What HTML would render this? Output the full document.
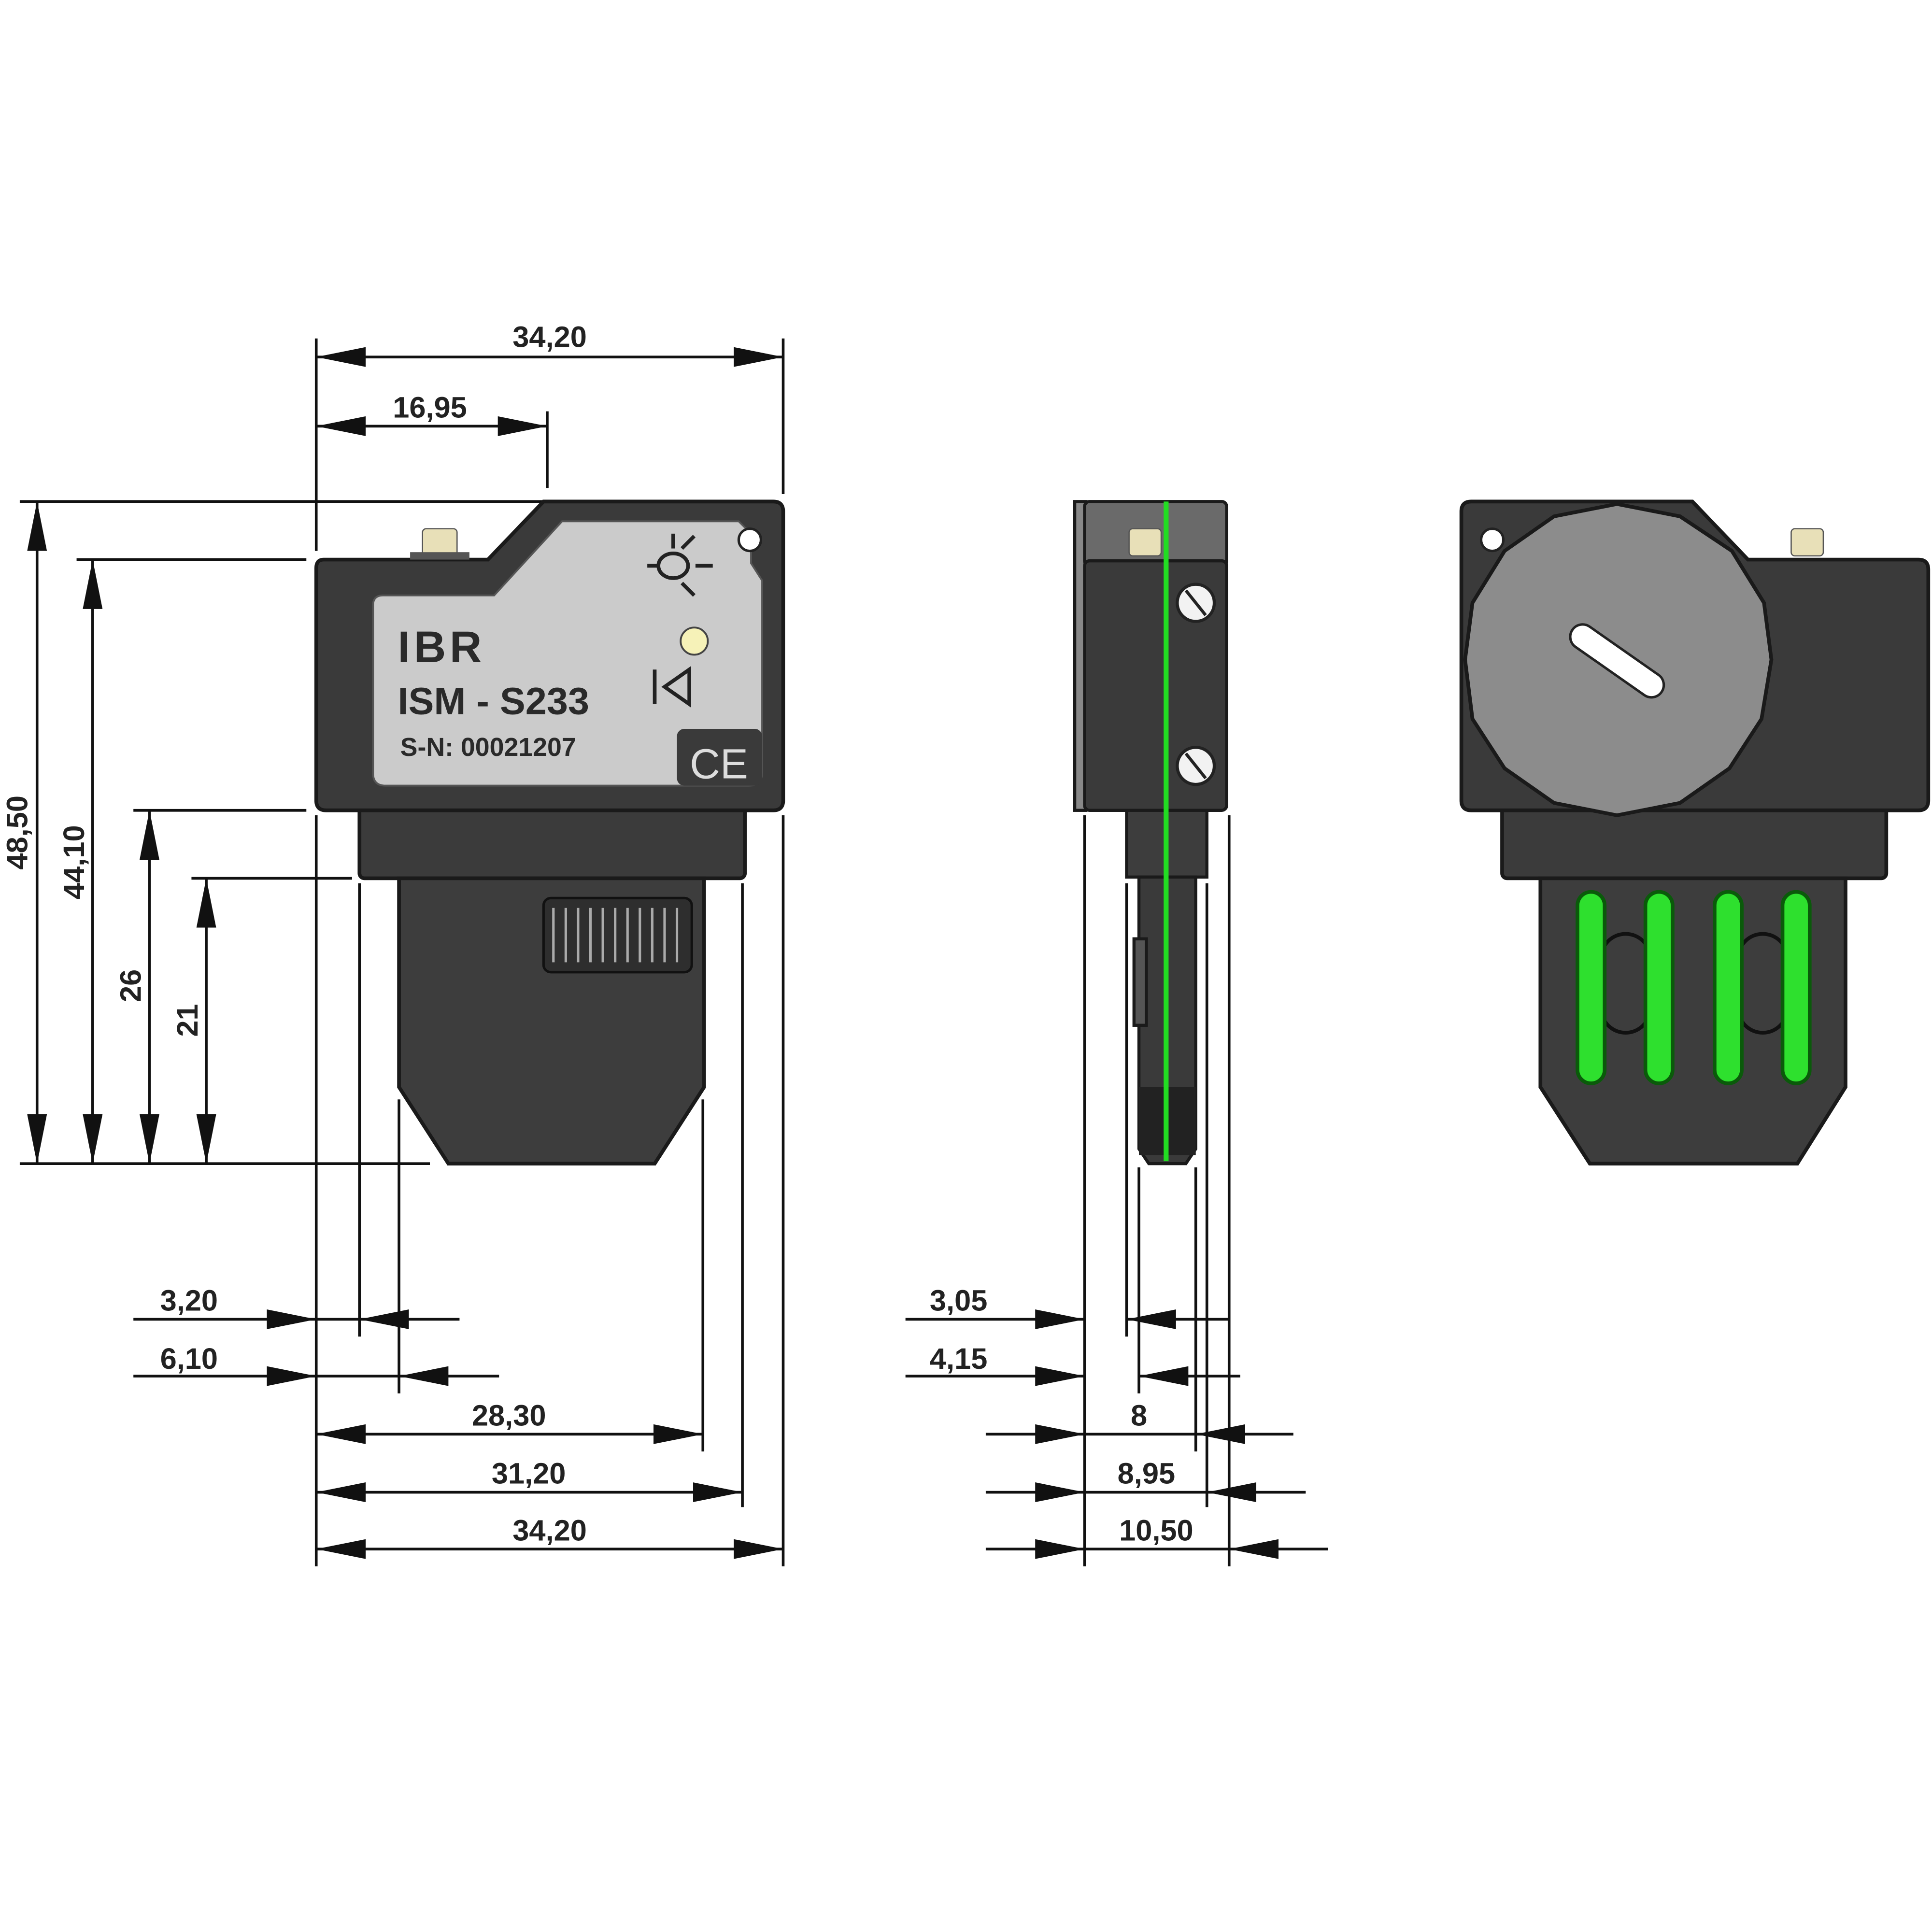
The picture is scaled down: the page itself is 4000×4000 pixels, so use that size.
<!DOCTYPE html>
<html><head><meta charset="utf-8"><style>
html,body{margin:0;padding:0;background:#fff;}
svg{display:block;}
text{font-family:"Liberation Sans",sans-serif;font-weight:bold;fill:#222;}
</style></head><body>
<svg width="4000" height="4000" viewBox="0 0 1564 1564" xmlns="http://www.w3.org/2000/svg">
<defs>
<marker id="a" viewBox="0 0 40 16" refX="40" refY="8" markerWidth="40" markerHeight="16" markerUnits="userSpaceOnUse" orient="auto-start-reverse"><path d="M0,0 L40,8 L0,16 z" fill="#111"/></marker>
</defs>
<g stroke="#111" stroke-width="2.2" fill="none">
<line x1="256" y1="274" x2="256" y2="446"/>
<line x1="634" y1="274" x2="634" y2="400"/>
<line x1="443" y1="333" x2="443" y2="395"/>
<line x1="256" y1="660" x2="256" y2="1268"/>
<line x1="634" y1="660" x2="634" y2="1268"/>
<line x1="291" y1="715" x2="291" y2="1082"/>
<line x1="323" y1="890" x2="323" y2="1128"/>
<line x1="569" y1="890" x2="569" y2="1175"/>
<line x1="601" y1="715" x2="601" y2="1220"/>
<line x1="16" y1="406" x2="440" y2="406"/>
<line x1="62" y1="453" x2="248" y2="453"/>
<line x1="108" y1="656" x2="248" y2="656"/>
<line x1="155" y1="711" x2="285" y2="711"/>
<line x1="16" y1="942" x2="348" y2="942"/>
<line x1="256" y1="289" x2="634" y2="289" marker-start="url(#a)" marker-end="url(#a)"/>
<line x1="256" y1="345" x2="443" y2="345" marker-start="url(#a)" marker-end="url(#a)"/>
<line x1="30" y1="406" x2="30" y2="942" marker-start="url(#a)" marker-end="url(#a)"/>
<line x1="75" y1="453" x2="75" y2="942" marker-start="url(#a)" marker-end="url(#a)"/>
<line x1="121" y1="656" x2="121" y2="942" marker-start="url(#a)" marker-end="url(#a)"/>
<line x1="167" y1="711" x2="167" y2="942" marker-start="url(#a)" marker-end="url(#a)"/>
<line x1="108" y1="1068" x2="256" y2="1068" marker-end="url(#a)"/>
<line x1="372" y1="1068" x2="291" y2="1068" marker-end="url(#a)"/>
<line x1="256" y1="1068" x2="291" y2="1068"/>
<line x1="108" y1="1114" x2="256" y2="1114" marker-end="url(#a)"/>
<line x1="404" y1="1114" x2="323" y2="1114" marker-end="url(#a)"/>
<line x1="256" y1="1114" x2="323" y2="1114"/>
<line x1="256" y1="1161" x2="569" y2="1161" marker-start="url(#a)" marker-end="url(#a)"/>
<line x1="256" y1="1208" x2="601" y2="1208" marker-start="url(#a)" marker-end="url(#a)"/>
<line x1="256" y1="1254" x2="634" y2="1254" marker-start="url(#a)" marker-end="url(#a)"/>
<line x1="878" y1="660" x2="878" y2="1268"/>
<line x1="995" y1="660" x2="995" y2="1268"/>
<line x1="912" y1="715" x2="912" y2="1082"/>
<line x1="922" y1="945" x2="922" y2="1128"/>
<line x1="968" y1="945" x2="968" y2="1175"/>
<line x1="977" y1="715" x2="977" y2="1220"/>
<line x1="733" y1="1068" x2="878" y2="1068" marker-end="url(#a)"/>
<line x1="995" y1="1068" x2="912" y2="1068" marker-end="url(#a)"/>
<line x1="733" y1="1114" x2="878" y2="1114" marker-end="url(#a)"/>
<line x1="1004" y1="1114" x2="922" y2="1114" marker-end="url(#a)"/>
<line x1="798" y1="1161" x2="878" y2="1161" marker-end="url(#a)"/>
<line x1="1047" y1="1161" x2="968" y2="1161" marker-end="url(#a)"/>
<line x1="878" y1="1161" x2="968" y2="1161"/>
<line x1="798" y1="1208" x2="878" y2="1208" marker-end="url(#a)"/>
<line x1="1057" y1="1208" x2="977" y2="1208" marker-end="url(#a)"/>
<line x1="878" y1="1208" x2="977" y2="1208"/>
<line x1="798" y1="1254" x2="878" y2="1254" marker-end="url(#a)"/>
<line x1="1075" y1="1254" x2="995" y2="1254" marker-end="url(#a)"/>
<line x1="878" y1="1254" x2="995" y2="1254"/>
</g>
<g font-size="24" text-anchor="middle">
<text x="445" y="281">34,20</text>
<text x="348" y="338">16,95</text>
<text x="153" y="1061">3,20</text>
<text x="153" y="1108">6,10</text>
<text x="412" y="1154">28,30</text>
<text x="428" y="1201">31,20</text>
<text x="445" y="1247">34,20</text>
<text x="776" y="1061">3,05</text>
<text x="776" y="1108">4,15</text>
<text x="922" y="1154">8</text>
<text x="928" y="1201">8,95</text>
<text x="936" y="1247">10,50</text>
<text transform="translate(22,674) rotate(-90)">48,50</text>
<text transform="translate(68,698) rotate(-90)">44,10</text>
<text transform="translate(114,798) rotate(-90)">26</text>
<text transform="translate(160,826) rotate(-90)">21</text>
</g>

<g stroke="#1a1a1a" stroke-width="3">
<rect x="291" y="650" width="312" height="61" rx="4" fill="#3b3b3b"/>
<path d="M323,711 L570,711 L570,880 L530,942 L363,942 L323,880 Z" fill="#3d3d3d"/>
<path d="M262,453 L395,453 L440,406 L626,406 Q634,406 634,414 L634,648 Q634,656 626,656 L264,656 Q256,656 256,648 L256,460 Q256,453 262,453 Z" fill="#3a3a3a"/>
</g>
<path d="M310,482 L400,482 L455,422 L598,422 L608,432 L608,456 L617,470 L617,625 Q617,636 606,636 L312,636 Q302,636 302,626 L302,490 Q302,482 310,482 Z" fill="#cbcbcb" stroke="#555" stroke-width="1.5"/>
<rect x="548" y="590" width="69" height="46" rx="6" fill="#3a3a3a"/>
<text x="582" y="630" font-size="34" text-anchor="middle" style="fill:#ddd;font-weight:normal">CE</text>
<rect x="342" y="428" width="28" height="22" rx="3" fill="#e8e0b8" stroke="#555"/>
<rect x="332" y="447" width="48" height="6" fill="#555"/>
<circle cx="607" cy="437" r="9" fill="#fff" stroke="#222" stroke-width="2"/>
<circle cx="562" cy="519" r="11" fill="#f6f2b8" stroke="#444" stroke-width="1.5"/>
<g stroke="#222" stroke-width="3" fill="none">
<ellipse cx="545" cy="458" rx="12" ry="10"/><line x1="524" y1="458" x2="533" y2="458"/>
<line x1="563" y1="458" x2="577" y2="458"/><line x1="552" y1="444" x2="562" y2="434"/><line x1="552" y1="472" x2="562" y2="482"/><line x1="545" y1="444" x2="545" y2="432"/>
<path d="M530,542 L530,570 M558,542 L538,556 L558,570 Z"/>
</g>
<text x="322" y="536" font-size="36" style="fill:#2a2a2a;letter-spacing:3px">IBR</text>
<text x="322" y="578" font-size="31" style="fill:#2a2a2a">ISM - S233</text>
<text x="324" y="612" font-size="21" style="fill:#2a2a2a">S-N: 00021207</text>
<rect x="440" y="727" width="120" height="60" rx="6" fill="#2e2e2e" stroke="#111" stroke-width="2"/>
<g stroke="#aaa" stroke-width="2">
<line x1="448" y1="735" x2="448" y2="779"/><line x1="458" y1="735" x2="458" y2="779"/><line x1="468" y1="735" x2="468" y2="779"/><line x1="478" y1="735" x2="478" y2="779"/><line x1="488" y1="735" x2="488" y2="779"/><line x1="498" y1="735" x2="498" y2="779"/><line x1="508" y1="735" x2="508" y2="779"/><line x1="518" y1="735" x2="518" y2="779"/><line x1="528" y1="735" x2="528" y2="779"/><line x1="538" y1="735" x2="538" y2="779"/><line x1="548" y1="735" x2="548" y2="779"/>
</g>

<g stroke="#1a1a1a" stroke-width="2.5">
<rect x="870" y="406" width="9" height="250" fill="#888"/>
<rect x="878" y="406" width="115" height="52" rx="4" fill="#6a6a6a"/>
<rect x="878" y="454" width="115" height="202" rx="4" fill="#3a3a3a"/>
<rect x="912" y="656" width="65" height="54" fill="#3d3d3d"/>
<path d="M922,710 L968,710 L968,930 L960,942 L930,942 L922,930 Z" fill="#3a3a3a"/>
<rect x="918" y="760" width="10" height="70" fill="#555"/>
</g>
<rect x="922" y="880" width="46" height="55" fill="#222"/>
<line x1="944" y1="406" x2="944" y2="940" stroke="#22dd22" stroke-width="4"/>
<rect x="914" y="428" width="26" height="22" rx="3" fill="#e8e0b8" stroke="#555"/>
<g stroke="#222" stroke-width="2.5">
<circle cx="968" cy="488" r="15" fill="#f2f2f2"/><line x1="960" y1="478" x2="976" y2="498"/>
<circle cx="968" cy="620" r="15" fill="#f2f2f2"/><line x1="960" y1="610" x2="976" y2="630"/>
</g>

<g stroke="#1a1a1a" stroke-width="3">
<rect x="1216" y="650" width="311" height="61" rx="4" fill="#3b3b3b"/>
<path d="M1247,711 L1494,711 L1494,880 L1455,942 L1287,942 L1247,880 Z" fill="#3d3d3d"/>
<path d="M1191,406 L1370,406 L1415,453 L1553,453 Q1561,453 1561,461 L1561,648 Q1561,656 1553,656 L1191,656 Q1183,656 1183,648 L1183,414 Q1183,406 1191,406 Z" fill="#3a3a3a"/>
<polygon points="1309,408 1360,418 1402,446 1428,488 1434,534 1426,582 1400,622 1360,650 1309,660 1258,650 1218,622 1192,582 1186,534 1192,488 1218,446 1258,418" fill="#8c8c8c"/>
</g>
<rect x="1265" y="525" width="88" height="20" rx="10" fill="#fff" stroke="#222" stroke-width="2" transform="rotate(35 1309 535)"/>
<circle cx="1208" cy="437" r="9" fill="#fff" stroke="#222" stroke-width="2"/>
<rect x="1450" y="428" width="26" height="22" rx="3" fill="#e8e0b8" stroke="#555"/>
<g stroke="#111" stroke-width="3" fill="none">
<rect x="1296" y="756" width="40" height="80" rx="20"/><rect x="1407" y="756" width="40" height="80" rx="20"/>
</g>
<g fill="#2ee02e" stroke="#0a5a0a" stroke-width="3">
<rect x="1277" y="722" width="22" height="155" rx="11"/>
<rect x="1332" y="722" width="22" height="155" rx="11"/>
<rect x="1388" y="722" width="22" height="155" rx="11"/>
<rect x="1443" y="722" width="22" height="155" rx="11"/>
</g>
</svg>
</body></html>
